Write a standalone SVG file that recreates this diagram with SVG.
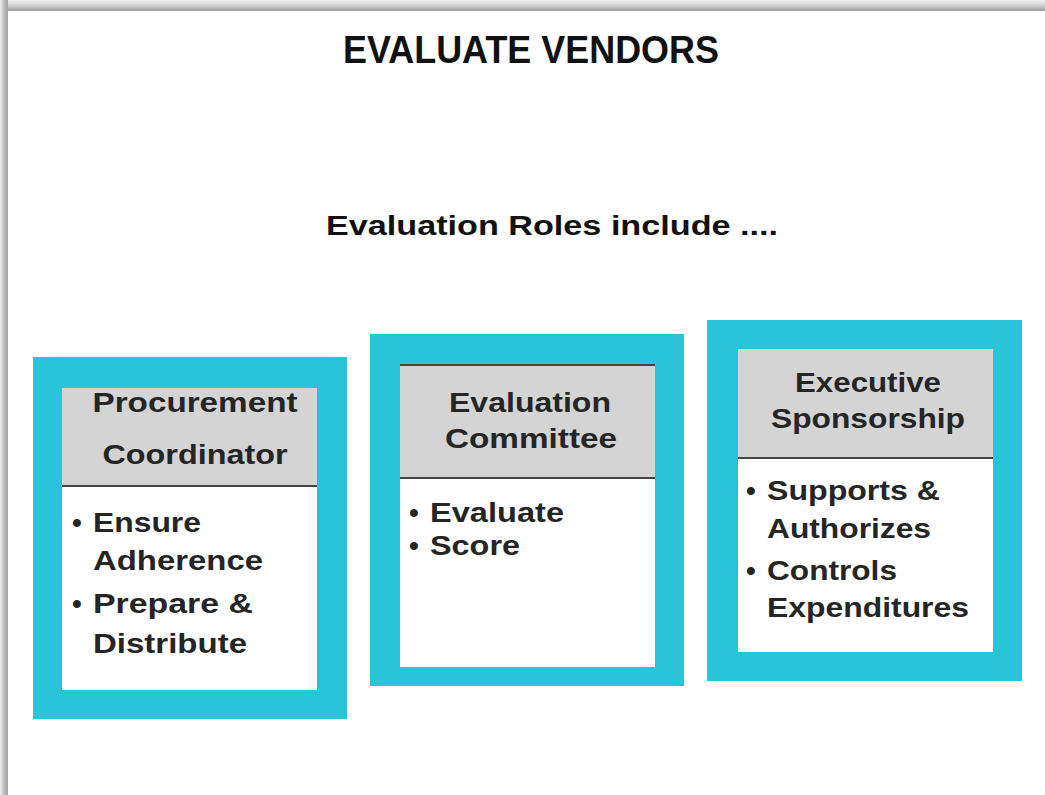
<svg xmlns="http://www.w3.org/2000/svg" width="1045" height="795" viewBox="0 0 1045 795">
<defs>
<linearGradient id="topShade" x1="0" y1="0" x2="0" y2="1">
<stop offset="0" stop-color="#f2f2f2"/>
<stop offset="0.6" stop-color="#c8c8c8"/>
<stop offset="1" stop-color="#9a9a9a"/>
</linearGradient>
<linearGradient id="leftShade" x1="0" y1="0" x2="1" y2="0">
<stop offset="0" stop-color="#f0f0f0"/>
<stop offset="0.5" stop-color="#bdbdbd"/>
<stop offset="1" stop-color="#a0a0a0"/>
</linearGradient>
</defs>
<style>
.title{font-family:"Liberation Sans",Arial,sans-serif;font-weight:bold;fill:#111;}
.sub{font-family:"Liberation Sans",Arial,sans-serif;font-weight:bold;fill:#111;}
.outer{fill:#29c4d8;}
.inner{fill:#ffffff;}
.head{fill:#d4d4d4;}
.sep{stroke:#444;stroke-width:2;}
.t{font-family:"Liberation Sans",Arial,sans-serif;font-weight:bold;font-size:28px;fill:#252525;}
.c{text-anchor:middle;}
</style>
<rect x="0" y="0" width="1045" height="795" fill="#ffffff"/>
<rect x="0" y="0" width="1045" height="11" fill="url(#topShade)"/>
<rect x="0" y="0" width="8" height="795" fill="url(#leftShade)"/>
<rect x="8" y="11" width="1037" height="784" fill="#ffffff"/>

<text class="title" x="531" y="63" font-size="38" text-anchor="middle" textLength="376" lengthAdjust="spacingAndGlyphs">EVALUATE VENDORS</text>
<text class="sub" x="552" y="235" font-size="28" text-anchor="middle" textLength="452" lengthAdjust="spacingAndGlyphs">Evaluation Roles include ....</text>

<g id="procurement-coordinator">
<rect class="outer" x="33" y="357" width="314" height="362"/>
<rect class="inner" x="62" y="388" width="255" height="302"/>
<rect class="head" x="62" y="388" width="255" height="98"/>
<line class="sep" x1="62" y1="486" x2="317" y2="486"/>
<text class="t c" x="195" y="412" textLength="205" lengthAdjust="spacingAndGlyphs">Procurement</text>
<text class="t c" x="195" y="464" textLength="185" lengthAdjust="spacingAndGlyphs">Coordinator</text>
<text class="t" x="72" y="532">•</text>
<text class="t" x="93" y="532" textLength="108" lengthAdjust="spacingAndGlyphs">Ensure</text>
<text class="t" x="93" y="570" textLength="170" lengthAdjust="spacingAndGlyphs">Adherence</text>
<text class="t" x="72" y="613">•</text>
<text class="t" x="93" y="613" textLength="160" lengthAdjust="spacingAndGlyphs">Prepare &amp;</text>
<text class="t" x="93" y="653" textLength="154" lengthAdjust="spacingAndGlyphs">Distribute</text>
</g>

<g id="evaluation-committee">
<rect class="outer" x="370" y="334" width="314" height="352"/>
<rect class="inner" x="400" y="364" width="255" height="303"/>
<rect class="head" x="400" y="364" width="255" height="114"/>
<line class="sep" x1="400" y1="365" x2="655" y2="365"/>
<line class="sep" x1="400" y1="478" x2="655" y2="478"/>
<text class="t c" x="530" y="412" textLength="162" lengthAdjust="spacingAndGlyphs">Evaluation</text>
<text class="t c" x="531" y="448" textLength="172" lengthAdjust="spacingAndGlyphs">Committee</text>
<text class="t" x="409" y="522">•</text>
<text class="t" x="430" y="522" textLength="134" lengthAdjust="spacingAndGlyphs">Evaluate</text>
<text class="t" x="409" y="555">•</text>
<text class="t" x="430" y="555" textLength="90" lengthAdjust="spacingAndGlyphs">Score</text>
</g>

<g id="executive-sponsorship">
<rect class="outer" x="707" y="320" width="315" height="361"/>
<rect class="inner" x="738" y="349" width="255" height="303"/>
<rect class="head" x="738" y="349" width="255" height="109"/>
<line class="sep" x1="738" y1="458" x2="993" y2="458"/>
<text class="t c" x="868" y="392" textLength="146" lengthAdjust="spacingAndGlyphs">Executive</text>
<text class="t c" x="868" y="428" textLength="194" lengthAdjust="spacingAndGlyphs">Sponsorship</text>
<text class="t" x="746" y="500">•</text>
<text class="t" x="767" y="500" textLength="173" lengthAdjust="spacingAndGlyphs">Supports &amp;</text>
<text class="t" x="767" y="538" textLength="164" lengthAdjust="spacingAndGlyphs">Authorizes</text>
<text class="t" x="746" y="580">•</text>
<text class="t" x="767" y="580" textLength="130" lengthAdjust="spacingAndGlyphs">Controls</text>
<text class="t" x="767" y="617" textLength="202" lengthAdjust="spacingAndGlyphs">Expenditures</text>
</g>

<g id="connectors"></g>
</svg>
